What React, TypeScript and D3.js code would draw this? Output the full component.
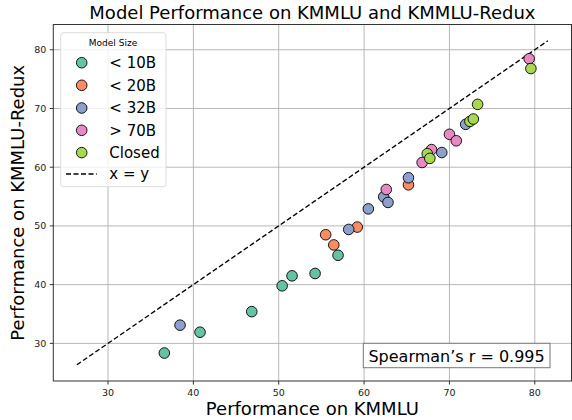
import React from 'react'
import * as d3 from 'd3'

// model size groups and their scores (KMMLU, KMMLU-Redux)
const groups = ['< 10B', '< 20B', '< 32B', '> 70B', 'Closed']
const colors = ['#66c2a5', '#fc8d62', '#8da0cb', '#e78ac3', '#a6d854']

const kmmlu = [
  [56.95, 54.26, 51.56, 50.4, 46.84, 40.78, 36.6],
  [65.2, 59.2, 55.5, 56.45],
  [71.9, 69.1, 65.2, 62.3, 62.8, 60.5, 58.2, 38.44],
  [79.34, 70.0, 70.8, 67.9, 66.8, 62.6],
  [79.54, 73.3, 72.4, 72.8, 67.4, 67.7],
]
const redux = [
  [45.0, 41.9, 41.5, 39.8, 35.4, 31.9, 28.35],
  [57.0, 49.8, 48.5, 46.76],
  [67.3, 62.5, 58.2, 54.95, 54.0, 52.9, 49.4, 33.1],
  [78.47, 65.6, 64.5, 63.0, 60.8, 56.2],
  [76.8, 70.7, 67.8, 68.2, 62.3, 61.5],
]
const ticks = [30, 40, 50, 60, 70, 80]
const spearman = 0.995

const font = 'DejaVu Sans, sans-serif'

const App = () => {
  const left = 53.3
  const right = 571.5
  const top = 24.5
  const bottom = 381

  const all = [...kmmlu.flat(), ...redux.flat()]
  const lo = Math.min(...all) - 2
  const hi = Math.max(...kmmlu.flat()) + 2
  const pad = (hi - lo) * 0.05

  const x = d3.scaleLinear().domain([lo - pad, hi + pad]).range([left, right])
  const y = d3.scaleLinear().domain([lo - pad, hi + pad]).range([bottom, top])

  const points = groups.flatMap((g, gi) =>
    kmmlu[gi].map((v, i) => ({ g: gi, x: v, y: redux[gi][i] }))
  )

  const legendRows = [62.7, 85.3, 108, 130.3, 152.6]

  return (
    <svg width={572} height={420} style={{ position: 'absolute', left: 0, top: 0 }}>
      <rect width={572} height={420} fill="#fff" />
      <text x={312.4} y={19} textAnchor="middle" fontFamily={font} fontSize={18}>
        Model Performance on KMMLU and KMMLU-Redux
      </text>

      {/* grid */}
      <g stroke="#b0b0b0" strokeWidth={0.9}>
        {ticks.map((t) => (
          <line key={'gx' + t} x1={x(t)} x2={x(t)} y1={top} y2={bottom} />
        ))}
        {ticks.map((t) => (
          <line key={'gy' + t} x1={left} x2={right} y1={y(t)} y2={y(t)} />
        ))}
      </g>

      {/* x = y line */}
      <line
        x1={x(lo)}
        y1={y(lo)}
        x2={x(hi)}
        y2={y(hi)}
        stroke="#000"
        strokeWidth={1.4}
        strokeDasharray="5 2.5"
      />

      {points.map((p, i) => (
        <circle
          key={i}
          cx={x(p.x)}
          cy={y(p.y)}
          r={5.3}
          fill={colors[p.g]}
          stroke="#000"
          strokeWidth={0.9}
        />
      ))}

      {/* spines */}
      <rect x={left} y={top} width={right - left} height={bottom - top} fill="none" stroke="#333" strokeWidth={1} />

      {/* ticks */}
      <g fontFamily={font} fontSize={9.5} fill="#222">
        {ticks.map((t) => (
          <g key={'tx' + t}>
            <line x1={x(t)} x2={x(t)} y1={bottom} y2={bottom + 3.5} stroke="#333" />
            <text x={x(t)} y={bottom + 15} textAnchor="middle">{t}</text>
          </g>
        ))}
        {ticks.map((t) => (
          <g key={'ty' + t}>
            <line x1={left - 3.5} x2={left} y1={y(t)} y2={y(t)} stroke="#333" />
            <text x={left - 7} y={y(t) + 3.5} textAnchor="end">{t}</text>
          </g>
        ))}
      </g>

      <text x={(left + right) / 2} y={415} textAnchor="middle" fontFamily={font} fontSize={18}>
        Performance on KMMLU
      </text>
      <text
        transform={`translate(24, ${(top + bottom) / 2}) rotate(-90)`}
        textAnchor="middle"
        fontFamily={font}
        fontSize={18}
      >
        Performance on KMMLU-Redux
      </text>

      {/* legend */}
      <rect x={60.7} y={32.7} width={105.3} height={154} rx={3} fill="#fff" fillOpacity={0.8} stroke="#ddd" />
      <text x={113} y={46} textAnchor="middle" fontFamily={font} fontSize={9}>Model Size</text>
      {groups.map((g, i) => (
        <g key={g}>
          <circle cx={81.7} cy={legendRows[i]} r={5.3} fill={colors[i]} stroke="#000" strokeWidth={0.9} />
          <text x={109.3} y={legendRows[i] + 5.3} fontFamily={font} fontSize={15}>{g}</text>
        </g>
      ))}
      <line x1={66} x2={96.7} y1={174} y2={174} stroke="#000" strokeWidth={1.4} strokeDasharray="5 2.5" />
      <text x={109.3} y={179.3} fontFamily={font} fontSize={15}>x = y</text>

      {/* correlation box */}
      <rect x={363.3} y={343.3} width={186.7} height={24.4} fill="#fff" stroke="#777" />
      <text x={456.6} y={361.5} textAnchor="middle" fontFamily={font} fontSize={16}>
        Spearman’s r = {spearman}
      </text>
    </svg>
  )
}

export default App
